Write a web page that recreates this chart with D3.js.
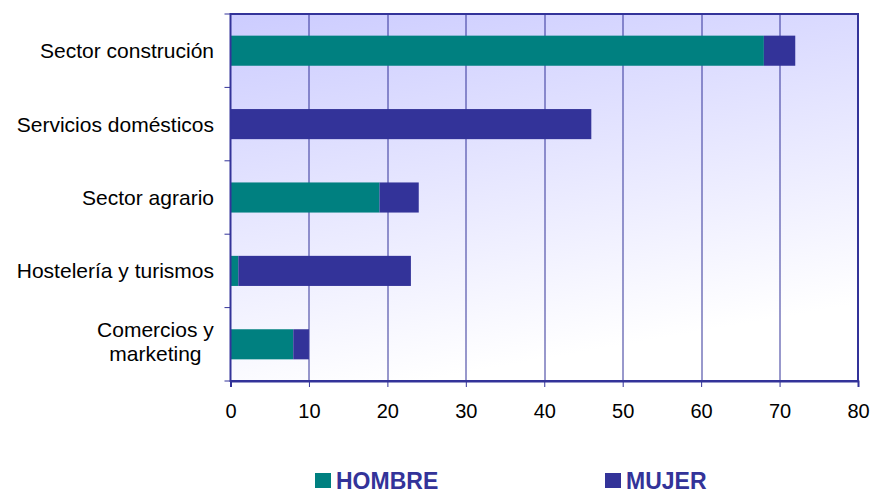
<!DOCTYPE html>
<html>
<head>
<meta charset="utf-8">
<script src="https://cdn.jsdelivr.net/npm/d3@7"></script>
<style>
  body { margin: 0; background: #fff; }
  text { font-family: "Liberation Sans", Arial, sans-serif; }
</style>
</head>
<body>
<script>
var categories = ['Sector construción', 'Servicios domésticos', 'Sector agrario', 'Hostelería y turismos', 'Comercios y\nmarketing'];
var hombre = [68, 0, 19, 1, 8];
var mujer = [4, 46, 5, 22, 2];
var seriesNames = ['HOMBRE', 'MUJER'];
var xTicks = [0, 10, 20, 30, 40, 50, 60, 70, 80];

var width = 870, height = 493,
    margin = { top: 14, right: 12, bottom: 112, left: 230.5 };

var colors = ['#008080', '#333399'];

var svg = d3.select('body').append('svg')
    .attr('width', width)
    .attr('height', height);

var w = width - margin.left - margin.right,
    h = height - margin.top - margin.bottom;

// gradient background of the plot area
var grad = svg.append('defs').append('linearGradient')
    .attr('id', 'bg')
    .attr('x1', '0').attr('y1', '0').attr('x2', '0.3').attr('y2', '1');
grad.append('stop').attr('offset', '0%').attr('stop-color', '#ccccff');
grad.append('stop').attr('offset', '100%').attr('stop-color', '#ffffff');

var x = d3.scaleLinear().domain([0, 80]).range([0, w]);
var y = d3.scaleBand().domain(categories).range([0, h]).paddingInner(0.59).paddingOuter(0.295);
var yb = d3.scaleBand().domain(categories).range([0, h]);

var g = svg.append('g')
    .attr('transform', 'translate(' + margin.left + ',' + margin.top + ')');

g.append('rect')
    .attr('width', w).attr('height', h)
    .attr('fill', 'url(#bg)');

// vertical gridlines
g.selectAll('.grid')
    .data(xTicks.slice(1, -1))
    .enter().append('line')
    .attr('x1', function(d) { return Math.round(x(d)) + 0.5; })
    .attr('x2', function(d) { return Math.round(x(d)) + 0.5; })
    .attr('y1', 0).attr('y2', h)
    .attr('stroke', '#333399').attr('stroke-width', 1);

// stacked bars
var rows = categories.map(function(c, i) { return { cat: c, hombre: hombre[i], mujer: mujer[i] }; });
var stack = d3.stack().keys(['hombre', 'mujer'])(rows);

g.selectAll('.series')
    .data(stack)
    .enter().append('g')
    .attr('fill', function(d, i) { return colors[i]; })
    .selectAll('rect')
    .data(function(d) { return d; })
    .enter().append('rect')
    .attr('x', function(d) { return x(d[0]); })
    .attr('width', function(d) { return x(d[1]) - x(d[0]); })
    .attr('y', function(d) { return y(d.data.cat); })
    .attr('height', y.bandwidth());

// plot border
g.append('rect')
    .attr('width', w).attr('height', h)
    .attr('fill', 'none')
    .attr('stroke', '#333399').attr('stroke-width', 2);

// x axis
var xAxis = g.append('g')
    .attr('transform', 'translate(0,' + h + ')')
    .call(d3.axisBottom(x).tickValues(xTicks).tickSize(6).tickPadding(17));
xAxis.select('.domain').attr('stroke', '#333399').attr('stroke-width', 2);
xAxis.selectAll('line').attr('stroke', '#333399');
xAxis.selectAll('text').attr('font-size', 20).attr('fill', '#000')
    .style('font-family', '"Liberation Sans", Arial, sans-serif');

// y axis ticks on category boundaries
g.selectAll('.ytick')
    .data(categories)
    .enter().append('line')
    .attr('x1', -6).attr('x2', 0)
    .attr('y1', function(d) { return yb(d); })
    .attr('y2', function(d) { return yb(d); })
    .attr('stroke', '#333399');
g.append('line')
    .attr('x1', -6).attr('x2', 0).attr('y1', h).attr('y2', h)
    .attr('stroke', '#333399');

// category labels
var labels = g.selectAll('.ylabel')
    .data(categories)
    .enter().append('text')
    .attr('font-size', 21)
    .attr('fill', '#000')
    .attr('text-anchor', 'middle');

labels.each(function(d) {
  var lines = d.split('\n');
  var t = d3.select(this);
  var cy = yb(d) + yb.bandwidth() / 2;
  var lh = 24;
  var off = lines.length > 1 ? 5 : 7.5;
  lines.forEach(function(l, i) {
    t.append('tspan')
      .attr('x', 0)
      .attr('y', cy + off + (i - (lines.length - 1) / 2) * lh)
      .text(l);
  });
});
// right-align the label blocks, centre the lines inside each block
labels.each(function() {
  var bb = this.getBBox();
  d3.select(this).attr('transform', 'translate(' + (-16.5 - bb.width / 2) + ',0)');
});

// legend
var legend = svg.append('g')
    .attr('transform', 'translate(0,' + 473 + ')');
var legendX = [315, 605];
seriesNames.forEach(function(name, i) {
  legend.append('rect')
    .attr('x', legendX[i]).attr('y', 0)
    .attr('width', 16).attr('height', 15)
    .attr('fill', colors[i]);
  legend.append('text')
    .attr('x', legendX[i] + 21).attr('y', 15.5)
    .attr('font-size', 23).attr('font-weight', 'bold')
    .attr('fill', '#333399')
    .text(name);
});
</script>
</body>
</html>
